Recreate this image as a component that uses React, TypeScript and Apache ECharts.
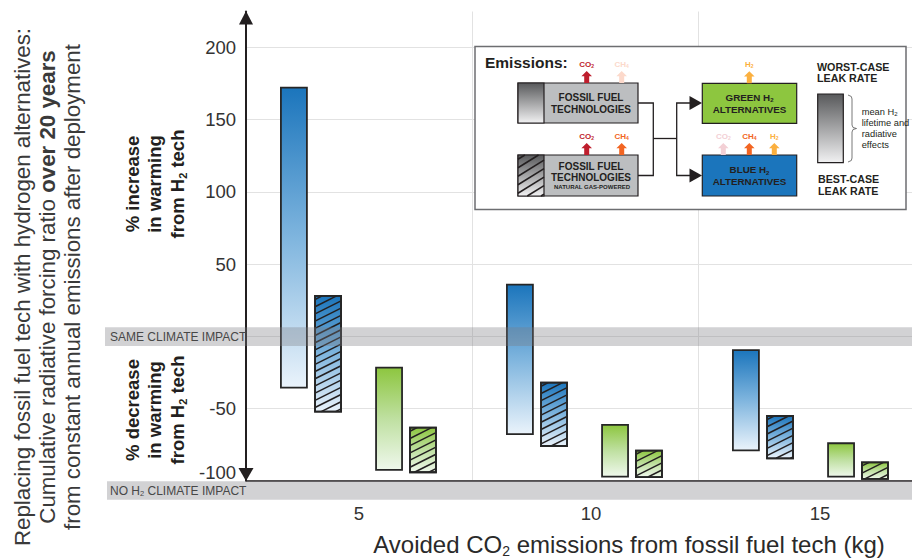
import React, { useEffect, useRef } from 'react';
import * as echarts from 'echarts';

const FONT = '"Liberation Sans", Arial, Helvetica, sans-serif';
const DARK = '#231f20';

// ---- Data ----
const categories = ['5', '10', '15'];
const blueHigh = [172.2, 35.7, -9.6];
const blueLow = [-35.7, -67.8, -79.1];
const blueGasHigh = [27.9, -32.2, -55.3];
const blueGasLow = [-52.3, -76.1, -84.6];
const greenHigh = [-21.8, -61.5, -74.2];
const greenLow = [-92.7, -97.3, -97.3];
const greenGasHigh = [-63.4, -79.3, -87.4];
const greenGasLow = [-94.3, -97.6, -98.9];
const sameImpactBand = [-6.8, 6.2];
const yMin = -100;
const yMax = 225;
const yStep = 50;

// ---- Layout ----
const GRID_LEFT = 246;
const GRID_TOP = 11.5;
const GRID_W = 678;
const GRID_H = 469;
const BAR_FRAC = 0.115;
const X_LABEL_SHIFT = [0, 12, 18];

const BLUE_STOPS = [
  { offset: 0, color: '#1b75bc' },
  { offset: 0.5, color: '#7fb5de' },
  { offset: 1, color: '#eaf3fb' },
];
const GREEN_STOPS = [
  { offset: 0, color: '#8dc63f' },
  { offset: 0.5, color: '#bfe0a1' },
  { offset: 1, color: '#eff8ec' },
];
const GRAY_STOPS = [
  { offset: 0, color: '#58595b' },
  { offset: 1, color: '#f1f1f2' },
];

function hatchLines(x0: number, y0: number, w: number, h: number, spacing = 7.2, slope = 0.5) {
  const segs: number[][] = [];
  const yb = y0 + h;
  for (let t = y0 + spacing * 0.5; t < yb + slope * w; t += spacing) {
    const xa = x0 + Math.max(0, (t - yb) / slope);
    const xb = x0 + Math.min(w, (t - y0) / slope);
    if (xb - xa > 0.3) segs.push([xa, t - slope * (xa - x0), xb, t - slope * (xb - x0)]);
  }
  return segs;
}

function makeRender(offsetFrac: number, hatched: boolean, stops: any[]) {
  return (params: any, api: any) => {
    const i = api.value(0);
    const top = api.coord([i, api.value(2)]);
    const bot = api.coord([i, api.value(1)]);
    const band = api.size([1, 0])[0];
    const w = band * BAR_FRAC;
    const x0 = top[0] + band * offsetFrac - w / 2;
    const y0 = top[1];
    const h = bot[1] - top[1];
    const children: any[] = [
      {
        type: 'rect',
        shape: { x: x0, y: y0, width: w, height: h },
        style: { fill: new echarts.graphic.LinearGradient(0, 0, 0, 1, stops), stroke: '#262626', lineWidth: 1.8 },
      },
    ];
    if (hatched) {
      hatchLines(x0, y0, w, h).forEach(([x1, y1, x2, y2]) =>
        children.push({ type: 'line', shape: { x1, y1, x2, y2 }, style: { stroke: DARK, lineWidth: 1.5 } })
      );
      children.push({
        type: 'rect',
        shape: { x: x0, y: y0, width: w, height: h },
        style: { fill: 'transparent', stroke: '#262626', lineWidth: 1.8 },
      });
    }
    return { type: 'group', children };
  };
}

const seriesDefs = [
  { name: 'Blue H2 (vs fossil)', low: blueLow, high: blueHigh, offset: -0.288, hatched: false, stops: BLUE_STOPS },
  { name: 'Blue H2 (vs natural gas)', low: blueGasLow, high: blueGasHigh, offset: -0.137, hatched: true, stops: BLUE_STOPS },
  { name: 'Green H2 (vs fossil)', low: greenLow, high: greenHigh, offset: 0.133, hatched: false, stops: GREEN_STOPS },
  { name: 'Green H2 (vs natural gas)', low: greenGasLow, high: greenGasHigh, offset: 0.283, hatched: true, stops: GREEN_STOPS },
];

const subStyle = (size: number, color: string, bold: boolean) => ({
  fontSize: size,
  lineHeight: size,
  verticalAlign: 'bottom',
  fill: color,
  color,
  fontWeight: bold ? 'bold' : 'normal',
  fontFamily: FONT,
});

function txt(x: number, y: number, text: string, o: any = {}) {
  const color = o.color || DARK;
  const size = o.size || 10;
  return {
    type: 'text',
    x,
    y,
    z: o.z ?? 22,
    rotation: o.rot || 0,
    style: {
      text,
      fontFamily: FONT,
      fontSize: size,
      fontWeight: o.bold ? 'bold' : 'normal',
      fill: color,
      align: o.align || 'center',
      verticalAlign: 'middle',
      lineHeight: o.lh || size * 1.2,
      rich: {
        s: subStyle(o.subSize || size * 0.62, color, !!o.bold),
        b: { fontSize: size, lineHeight: o.lh || size * 1.2, fontWeight: 'bold', fill: color, color, fontFamily: FONT },
      },
    },
  };
}

function upArrow(cx: number, baseY: number, color: string, label: string) {
  const sw = 2.5, hw = 5.3, total = 12, head = 5.2;
  return [
    {
      type: 'polygon',
      z: 22,
      shape: {
        points: [
          [cx - sw, baseY],
          [cx - sw, baseY - total + head],
          [cx - hw, baseY - total + head],
          [cx, baseY - total],
          [cx + hw, baseY - total + head],
          [cx + sw, baseY - total + head],
          [cx + sw, baseY],
        ],
      },
      style: { fill: color },
    },
    txt(cx, baseY - 19, label, { size: 8, bold: true, color, subSize: 5, lh: 9 }),
  ];
}

function legendElements() {
  const els: any[] = [];
  els.push({
    type: 'rect', z: 20,
    shape: { x: 475, y: 46.5, width: 431, height: 163 },
    style: { fill: '#ffffff', stroke: '#6d6e71', lineWidth: 1.5 },
  });
  els.push(txt(485, 62.5, 'Emissions:', { size: 15.5, bold: true, align: 'left' }));

  // fossil box 1
  els.push({ type: 'rect', z: 21, shape: { x: 518, y: 83, width: 120, height: 40 }, style: { fill: '#bcbec0', stroke: DARK, lineWidth: 1.2 } });
  els.push({ type: 'rect', z: 21, shape: { x: 518, y: 83, width: 26, height: 40 }, style: { fill: new echarts.graphic.LinearGradient(0, 0, 0, 1, GRAY_STOPS), stroke: DARK, lineWidth: 1.2 } });
  els.push(txt(591, 103, 'FOSSIL FUEL\nTECHNOLOGIES', { size: 10, bold: true, lh: 12 }));

  // fossil box 2 (natural gas)
  els.push({ type: 'rect', z: 21, shape: { x: 518, y: 155, width: 120, height: 41 }, style: { fill: '#bcbec0', stroke: DARK, lineWidth: 1.2 } });
  els.push({ type: 'rect', z: 21, shape: { x: 518, y: 155, width: 26, height: 41 }, style: { fill: new echarts.graphic.LinearGradient(0, 0, 0, 1, GRAY_STOPS) } });
  hatchLines(518, 155, 26, 41, 8.5, 0.62).forEach(([x1, y1, x2, y2]) =>
    els.push({ type: 'line', z: 22, shape: { x1, y1, x2, y2 }, style: { stroke: DARK, lineWidth: 1.6 } })
  );
  els.push({ type: 'rect', z: 23, shape: { x: 518, y: 155, width: 26, height: 41 }, style: { fill: 'transparent', stroke: DARK, lineWidth: 1.2 } });
  els.push(txt(591, 172.2, 'FOSSIL FUEL\nTECHNOLOGIES', { size: 10, bold: true, lh: 11 }));
  els.push(txt(592, 186.8, 'NATURAL GAS-POWERED', { size: 6, bold: true, lh: 7 }));

  els.push(...upArrow(586.7, 83, '#be1e2d', 'CO{s|2}'));
  els.push(...upArrow(621.7, 83, '#fcd9cb', 'CH{s|4}'));
  els.push(...upArrow(586.7, 155, '#be1e2d', 'CO{s|2}'));
  els.push(...upArrow(621.7, 155, '#f26522', 'CH{s|4}'));

  // connectors
  const stroke = { stroke: DARK, lineWidth: 1.3, fill: 'none' };
  els.push({ type: 'polyline', z: 21, shape: { points: [[638, 103], [653.3, 103], [653.3, 175.5], [638, 175.5]] }, style: stroke });
  els.push({ type: 'line', z: 21, shape: { x1: 653.3, y1: 138.5, x2: 676.7, y2: 138.5 }, style: stroke });
  els.push({ type: 'polyline', z: 21, shape: { points: [[692, 103], [676.7, 103], [676.7, 175.5], [692, 175.5]] }, style: stroke });
  els.push({ type: 'polygon', z: 21, shape: { points: [[689.5, 96], [702, 103], [689.5, 110]] }, style: { fill: DARK } });
  els.push({ type: 'polygon', z: 21, shape: { points: [[689.5, 168.5], [702, 175.5], [689.5, 182.5]] }, style: { fill: DARK } });

  // green / blue boxes
  els.push({ type: 'rect', z: 21, shape: { x: 702.3, y: 83.3, width: 94.4, height: 40 }, style: { fill: '#8dc63f', stroke: DARK, lineWidth: 1.2 } });
  els.push(txt(749.5, 103.3, 'GREEN H{s|2}\nALTERNATIVES', { size: 9.8, bold: true, lh: 12, subSize: 6 }));
  els.push({ type: 'rect', z: 21, shape: { x: 702.3, y: 155, width: 94.4, height: 41 }, style: { fill: '#1b75bc', stroke: DARK, lineWidth: 1.2 } });
  els.push(txt(749.5, 175.5, 'BLUE H{s|2}\nALTERNATIVES', { size: 9.8, bold: true, lh: 12, subSize: 6 }));

  els.push(...upArrow(749.3, 83.3, '#fbb040', 'H{s|2}'));
  els.push(...upArrow(723.3, 155, '#f3d0d5', 'CO{s|2}'));
  els.push(...upArrow(749.3, 155, '#f26522', 'CH{s|4}'));
  els.push(...upArrow(774.3, 155, '#fbb040', 'H{s|2}'));

  // leak-rate key
  els.push(txt(817, 72.5, 'WORST-CASE\nLEAK RATE', { size: 10.7, bold: true, lh: 11.7, align: 'left' }));
  els.push({ type: 'rect', z: 21, shape: { x: 817.7, y: 94, width: 25.6, height: 68.7 }, style: { fill: new echarts.graphic.LinearGradient(0, 0, 0, 1, GRAY_STOPS), stroke: DARK, lineWidth: 1.2 } });
  els.push({
    type: 'polyline', z: 21,
    shape: { points: [[848, 95], [851.3, 96.5], [852, 99], [852, 125], [853, 127.5], [856.5, 128.5], [853, 129.5], [852, 132], [852, 158], [851.3, 160.5], [848, 162]] },
    style: { stroke: '#555', lineWidth: 0.8, fill: 'none' },
  });
  els.push(txt(861.7, 128.5, 'mean H{s|2}\nlifetime and\nradiative\neffects', { size: 9.3, lh: 11.2, align: 'left', subSize: 6 }));
  els.push(txt(818, 185.2, 'BEST-CASE\nLEAK RATE', { size: 10.7, bold: true, lh: 11.7, align: 'left' }));
  return els;
}

export default function App() {
  const ref = useRef<HTMLDivElement>(null);
  useEffect(() => {
    document.body.style.margin = '0';
    const chart = echarts.init(ref.current as HTMLDivElement, null, { renderer: 'svg' });
    const xLabelRich: any = {};
    X_LABEL_SHIFT.forEach((p, i) => {
      xLabelRich['c' + i] = { fontSize: 18.5, color: '#333', fontFamily: FONT, padding: [0, 0, 0, p] };
    });
    const option: any = {
      animation: false,
      textStyle: { fontFamily: FONT },
      grid: { left: GRID_LEFT, top: GRID_TOP, width: GRID_W, height: GRID_H, containLabel: false, outerBoundsMode: 'none' },
      xAxis: {
        type: 'category',
        data: categories,
        boundaryGap: true,
        axisLine: { onZero: false, lineStyle: { color: DARK, width: 1.5 } },
        axisTick: { show: false },
        splitLine: { show: true, lineStyle: { color: '#e2e2e2', width: 1 } },
        axisLabel: {
          fontSize: 18.5, color: '#333', margin: 23, lineHeight: 20, fontFamily: FONT,
          formatter: (v: string, i: number) => '{c' + i + '|' + v + '}',
          rich: xLabelRich,
        },
        name: 'Avoided CO{s|2} emissions from fossil fuel tech (kg)',
        nameLocation: 'middle',
        nameGap: 50,
        nameTextStyle: {
          fontSize: 24,
          color: '#2a2a2a',
          lineHeight: 27,
          fontFamily: FONT,
          padding: [0, 0, 0, 88],
          rich: { s: { fontSize: 14, lineHeight: 14, verticalAlign: 'bottom', color: '#2a2a2a', fontFamily: FONT } },
        },
      },
      yAxis: {
        type: 'value',
        min: yMin,
        max: yMax,
        interval: yStep,
        axisLine: { show: true, lineStyle: { color: DARK, width: 2 } },
        axisTick: { show: false },
        splitLine: { show: true, showMaxLine: false, lineStyle: { color: '#e2e2e2', width: 1 } },
        axisLabel: {
          fontSize: 18.5,
          color: '#333',
          margin: 10,
          fontFamily: FONT,
          showMaxLabel: false,
          formatter: (v: number) => (v === 0 || v > 200 ? '' : v === yMin ? '{low|' + v + '}' : String(v)),
          rich: { low: { fontSize: 18.5, color: '#333', fontFamily: FONT, padding: [0, 0, 17, 0] } },
        },
      },
      series: seriesDefs.map((d) => ({
        type: 'custom',
        name: d.name,
        z: 3,
        encode: { x: 0, y: [1, 2] },
        data: categories.map((c, i) => [i, d.low[i], d.high[i]]),
        renderItem: makeRender(d.offset, d.hatched, d.stops),
      })),
    };
    chart.setOption(option);

    const yPx = (v: number) => chart.convertToPixel({ yAxisIndex: 0 }, v) as number;
    const axisX = GRID_LEFT;
    const yBottom = yPx(yMin);
    const yTop = yPx(yMax);
    const bandTop = yPx(sameImpactBand[1]);
    const bandBot = yPx(sameImpactBand[0]);
    const BAND_FILL = 'rgba(122,124,128,0.34)';

    const elements: any[] = [
      txt(47, 287, 'Replacing fossil fuel tech with hydrogen alternatives:\nCumulative radiative forcing ratio {b|over 20 years}\nfrom constant annual emissions after deployment', {
        size: 22.3, lh: 25, rot: Math.PI / 2, color: '#3a3a3a', z: 5,
      }),
      txt(154.5, 184, '% increase\nin warming\nfrom H{s|2} tech', { size: 18.5, bold: true, lh: 22.5, rot: Math.PI / 2, subSize: 11, z: 5 }),
      txt(154.5, 410, '% decrease\nin warming\nfrom H{s|2} tech', { size: 18.5, bold: true, lh: 22.5, rot: Math.PI / 2, subSize: 11, z: 5 }),
      { type: 'polygon', z: 6, shape: { points: [[axisX - 7, yTop + 13], [axisX + 7, yTop + 13], [axisX, yTop - 0.5]] }, style: { fill: DARK } },
      { type: 'polygon', z: 6, shape: { points: [[axisX - 7.5, yBottom - 12.5], [axisX + 7.5, yBottom - 12.5], [axisX, yBottom + 0.5]] }, style: { fill: DARK } },
      { type: 'rect', z: 10, shape: { x: 105, y: bandTop, width: 807, height: bandBot - bandTop }, style: { fill: BAND_FILL } },
      txt(110, (bandTop + bandBot) / 2, 'SAME CLIMATE IMPACT', { size: 12, align: 'left', color: '#474747', z: 11 }),
      { type: 'rect', z: 10, shape: { x: 107, y: yBottom + 0.8, width: 805, height: 18.5 }, style: { fill: BAND_FILL } },
      txt(110, yBottom + 10, 'NO H{s|2} CLIMATE IMPACT', { size: 12, align: 'left', color: '#474747', z: 11, subSize: 7.5, lh: 14 }),
      ...legendElements(),
    ];
    chart.setOption({ graphic: { elements } });
    return () => chart.dispose();
  }, []);
  return <div ref={ref} style={{ width: 912, height: 560 }} />;
}
